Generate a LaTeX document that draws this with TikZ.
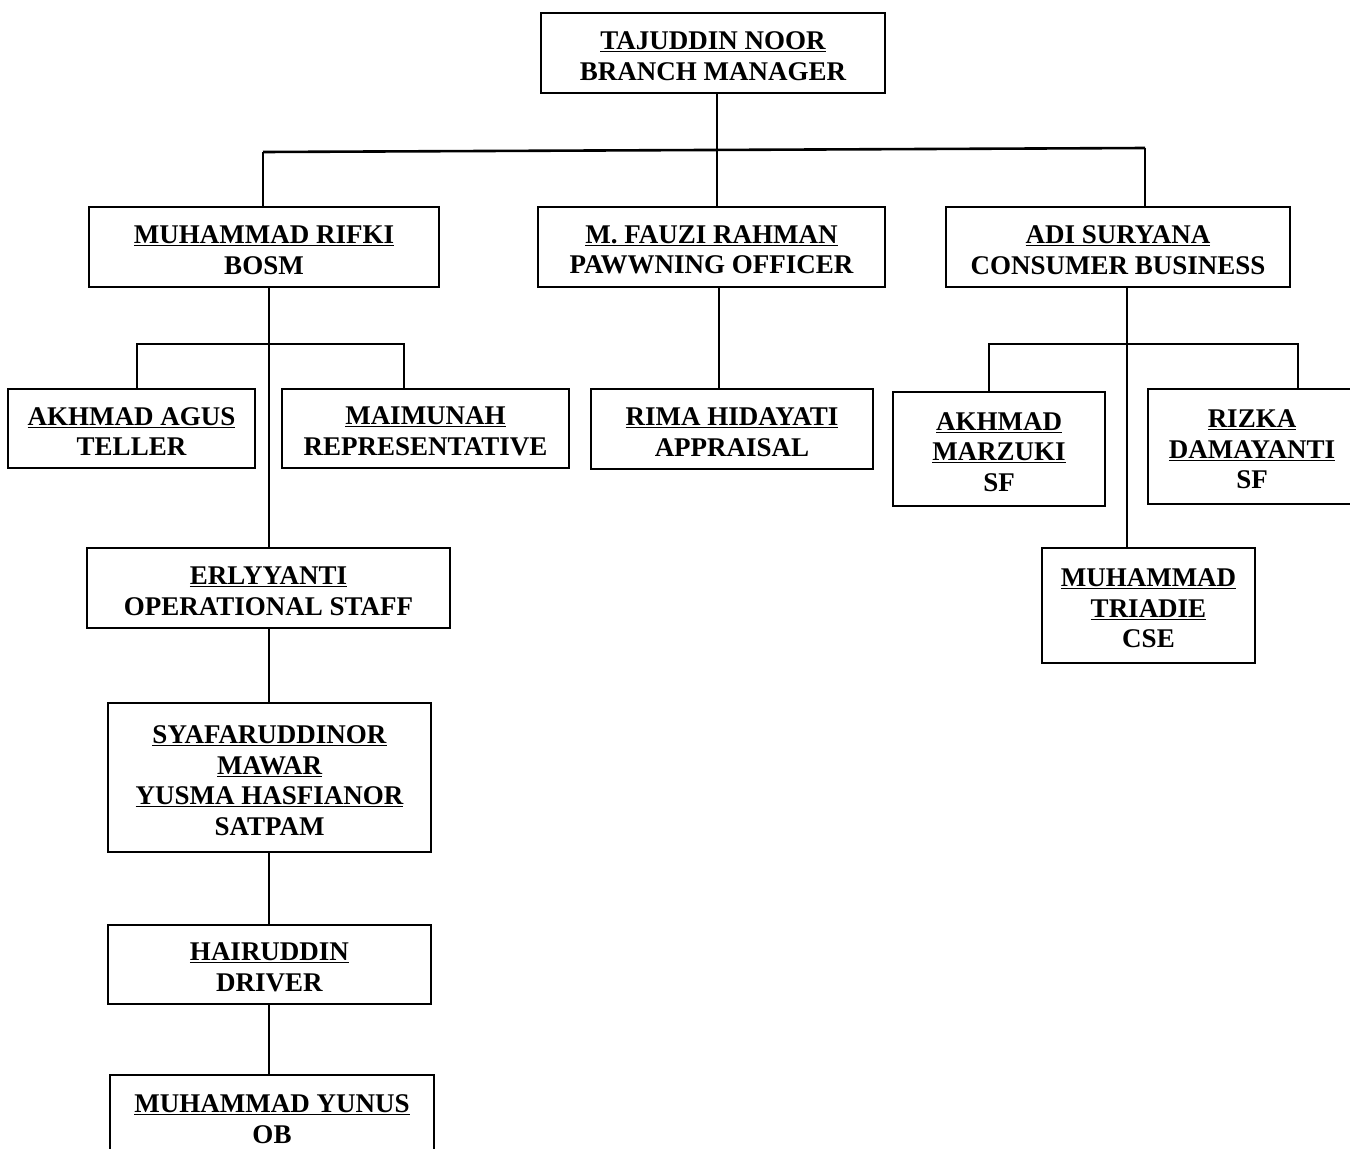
\documentclass[tikz,border=0pt]{standalone}
\usepackage{fontspec}
\setmainfont{Liberation Serif}
\begin{document}
\begin{tikzpicture}[x=1pt,y=-1pt]
\tikzset{
  box/.style={draw, line width=1.4pt, rectangle, inner sep=0pt},
  txt/.style={align=center, inner sep=0pt, yshift=-3pt,
    font=\fontsize{27}{30.5}\selectfont\bfseries},
  conn/.style={line width=2.6pt},
}
\newcommand\bx[6]{\node[box, minimum width={(#4-#2)*1pt}, minimum height={(#5-#3)*1pt},
  label={[txt]center:{#6}}] (#1) at ({(#2+#4)/2},{(#3+#5)/2}) {};}
\clip (0,0) rectangle (1350,1149);
\fill[white] (0,0) rectangle (1350,1149);

\bx{bm}{541}{13}{885}{93}{\underline{TAJUDDIN NOOR}\\BRANCH MANAGER}
\bx{rifki}{89}{207}{439}{287}{\underline{MUHAMMAD RIFKI}\\BOSM}
\bx{fauzi}{538}{207}{885}{287}{\underline{M. FAUZI RAHMAN}\\PAWWNING OFFICER}
\bx{adi}{946}{207}{1290}{287}{\underline{ADI SURYANA}\\CONSUMER BUSINESS}
\bx{agus}{8}{389}{255}{468}{\underline{AKHMAD AGUS}\\TELLER}
\bx{maim}{282}{389}{569}{468}{\underline{MAIMUNAH}\\REPRESENTATIVE}
\bx{rima}{591}{389}{873}{469}{\underline{RIMA HIDAYATI}\\APPRAISAL}
\bx{marz}{893}{392}{1105}{506}{\underline{AKHMAD}\\\underline{MARZUKI}\\SF}
\bx{rizka}{1148}{389}{1356}{504}{\underline{RIZKA}\\\underline{DAMAYANTI}\\SF}
\bx{triadie}{1042}{548}{1255}{663}{\underline{MUHAMMAD}\\\underline{TRIADIE}\\CSE}
\bx{erly}{87}{548}{450}{628}{\underline{ERLYYANTI}\\OPERATIONAL STAFF}
\bx{syaf}{108}{703}{431}{852}{\underline{SYAFARUDDINOR}\\\underline{MAWAR}\\\underline{YUSMA HASFIANOR}\\SATPAM}
\bx{hair}{108}{925}{431}{1004}{\underline{HAIRUDDIN}\\DRIVER}
\bx{yunus}{110}{1075}{434}{1157}{\underline{MUHAMMAD YUNUS}\\OB}

% top level
\coordinate (h1) at (263,152);
\coordinate (h3) at (1145,148);
\draw[conn] (h1) -- (h3);
\draw[conn] ([xshift=4pt]bm.south) -- ([xshift=5.5pt]fauzi.north);
\draw[conn] (h1) -- (h1 |- rifki.north);
\draw[conn] (h3) -- (h3 |- adi.north);

% Rifki branch
\coordinate (r0) at (269,0);
\draw[conn] (r0 |- rifki.south) -- (r0 |- erly.north);
\coordinate (t1) at (137,344);
\coordinate (t2) at (404,344);
\draw[conn] (t1 |- agus.north) -- (t1) -- (t2) -- (t2 |- maim.north);
\draw[conn] (r0 |- erly.south) -- (r0 |- syaf.north);
\draw[conn] (r0 |- syaf.south) -- (r0 |- hair.north);
\draw[conn] (r0 |- hair.south) -- (r0 |- yunus.north);

% Fauzi branch
\coordinate (f0) at (719,0);
\draw[conn] (f0 |- fauzi.south) -- (f0 |- rima.north);

% Adi branch
\coordinate (a0) at (1127,0);
\draw[conn] (a0 |- adi.south) -- (a0 |- triadie.north);
\coordinate (s1) at (989,344);
\coordinate (s2) at (1298,344);
\draw[conn] (s1 |- marz.north) -- (s1) -- (s2) -- (s2 |- rizka.north);
\end{tikzpicture}
\end{document}
